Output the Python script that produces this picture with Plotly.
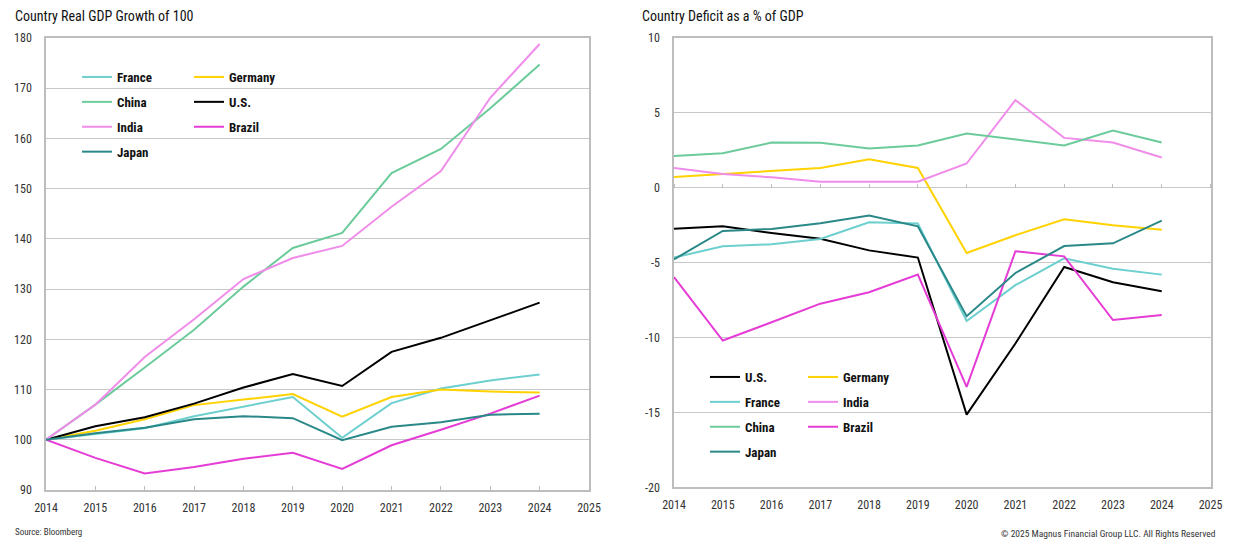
import plotly.graph_objects as go

# ---------------- data ----------------
years = [2014, 2015, 2016, 2017, 2018, 2019, 2020, 2021, 2022, 2023, 2024]
x_ticks = [2014, 2015, 2016, 2017, 2018, 2019, 2020, 2021, 2022, 2023, 2024, 2025]

# Real GDP growth, indexed to 100 in 2014
france_gdp = [100, 101.2, 102.3, 104.7, 106.6, 108.5, 100.4, 107.3, 110.2, 111.8, 113.0]
germany_gdp = [100, 101.8, 104.1, 106.9, 108.0, 109.1, 104.6, 108.5, 110.0, 109.6, 109.4]
china_gdp = [100, 107.0, 114.4, 121.9, 130.5, 138.2, 141.2, 153.1, 157.9, 166.0, 174.7]
us_gdp = [100, 102.7, 104.5, 107.2, 110.4, 113.1, 110.7, 117.5, 120.3, 123.8, 127.3]
india_gdp = [100, 107.0, 116.5, 124.0, 132.0, 136.2, 138.6, 146.4, 153.5, 168.1, 178.8]
brazil_gdp = [100, 96.4, 93.3, 94.6, 96.2, 97.4, 94.2, 98.9, 102.0, 105.2, 108.8]
japan_gdp = [100, 101.3, 102.4, 104.1, 104.7, 104.3, 99.9, 102.6, 103.5, 105.0, 105.2]

# Deficit as a % of GDP
us_def = [-2.73, -2.57, -3.02, -3.4, -4.18, -4.66, -15.15, -10.4, -5.29, -6.31, -6.91]
germany_def = [0.72, 0.92, 1.12, 1.32, 1.9, 1.32, -4.35, -3.17, -2.1, -2.5, -2.8]
france_def = [-4.66, -3.91, -3.77, -3.42, -2.3, -2.39, -8.9, -6.5, -4.71, -5.4, -5.8]
india_def = [1.32, 0.92, 0.7, 0.41, 0.41, 0.41, 1.62, 5.85, 3.33, 3.02, 2.02]
china_def = [2.12, 2.3, 3.02, 3.0, 2.62, 2.82, 3.62, 3.22, 2.82, 3.82, 3.02]
brazil_def = [-5.96, -10.2, -8.98, -7.74, -6.98, -5.8, -13.3, -4.24, -4.58, -8.83, -8.5]
japan_def = [-4.78, -2.88, -2.75, -2.37, -1.86, -2.57, -8.58, -5.69, -3.89, -3.71, -2.19]

gdp_ticks = [90, 100, 110, 120, 130, 140, 150, 160, 170, 180]
def_ticks = [-20, -15, -10, -5, 0, 5, 10]
def_tick_text = ["-20", "-15", "-10", "-5", "0", "5", "10"]

left_title = "Country Real GDP Growth of 100"
right_title = "Country Deficit as a % of GDP"
source_text = "Source: Bloomberg"
copyright_text = "© 2025 Magnus Financial Group LLC. All Rights Reserved"

# ---------------- styling ----------------
colors = {
    "France": "#6ECFCF",
    "Germany": "#FFD200",
    "China": "#6CCB9B",
    "U.S.": "#000000",
    "India": "#F08CEA",
    "Brazil": "#E63CD6",
    "Japan": "#2B8888",
}

W, H = 1235, 544
def px_x(p):
    return p / W
def px_y(p):
    return 1 - p / H

FONT = "Liberation Sans Narrow, Arial Narrow, Roboto Condensed, Roboto, sans-serif"
TXT = "#333333"
GRID = "#C8C8C8"
FRAME = "#BDBDBD"

fig = go.Figure()

left_series = [
    ("France", france_gdp, "legend"),
    ("Germany", germany_gdp, "legend2"),
    ("China", china_gdp, "legend"),
    ("U.S.", us_gdp, "legend2"),
    ("India", india_gdp, "legend"),
    ("Brazil", brazil_gdp, "legend2"),
    ("Japan", japan_gdp, "legend"),
]
right_series = [
    ("U.S.", us_def, "legend3"),
    ("Germany", germany_def, "legend4"),
    ("France", france_def, "legend3"),
    ("India", india_def, "legend4"),
    ("China", china_def, "legend3"),
    ("Brazil", brazil_def, "legend4"),
    ("Japan", japan_def, "legend3"),
]

for name, vals, lg in left_series:
    fig.add_trace(go.Scatter(
        x=years, y=vals, mode="lines", name=name,
        line=dict(color=colors[name], width=2),
        xaxis="x", yaxis="y", legend=lg, legendgroup="L" + name,
        hoverinfo="skip"))

for name, vals, lg in right_series:
    fig.add_trace(go.Scatter(
        x=years, y=vals, mode="lines", name=name,
        line=dict(color=colors[name], width=2),
        xaxis="x2", yaxis="y2", legend=lg, legendgroup="R" + name,
        hoverinfo="skip"))

# helper trace so the tick-only axis at zero is drawn
fig.add_trace(go.Scatter(x=[], y=[], xaxis="x3", yaxis="y2", showlegend=False, hoverinfo="skip"))

tickfont = dict(family=FONT, size=12, color=TXT)
legfont = dict(family=FONT, size=13, color="#111111", weight="bold")

y2_dom = [px_y(487.3), px_y(38)]
zero_pos = y2_dom[0] + (0 - (-20)) / 30 * (y2_dom[1] - y2_dom[0])

common_x = dict(range=[2014, 2025], tickvals=x_ticks, ticktext=[str(t) for t in x_ticks],
                showgrid=False, zeroline=False, showline=True, mirror=True,
                linecolor=FRAME, linewidth=1.5, tickfont=tickfont, ticklabelstandoff=6,
                automargin=False, fixedrange=True)

fig.update_layout(
    width=W, height=H,
    margin=dict(l=0, r=0, t=0, b=0),
    paper_bgcolor="white", plot_bgcolor="white",
    template="none",
    font=dict(family=FONT, color=TXT),
    xaxis=dict(domain=[px_x(46), px_x(589)], anchor="y",
               ticks="inside", ticklen=4, tickcolor=FRAME, tickwidth=1, **common_x),
    yaxis=dict(domain=[px_y(490), px_y(38)], anchor="x", range=[90, 180],
               tickvals=gdp_ticks, ticktext=[str(t) for t in gdp_ticks],
               showgrid=True, gridcolor=GRID, gridwidth=1, zeroline=False,
               showline=True, mirror=True, linecolor=FRAME, linewidth=1.5,
               ticks="", tickfont=tickfont, ticklabelstandoff=10,
               automargin=False, fixedrange=True),
    xaxis2=dict(domain=[px_x(674), px_x(1210.5)], anchor="y2", ticks="", **common_x),
    yaxis2=dict(domain=y2_dom, anchor="x2", range=[-20, 10],
                tickvals=def_ticks, ticktext=def_tick_text,
                showgrid=True, gridcolor=GRID, gridwidth=1, zeroline=False,
                showline=True, mirror=True, linecolor=FRAME, linewidth=1.5,
                ticks="", tickfont=tickfont, ticklabelstandoff=10,
                automargin=False, fixedrange=True),
    xaxis3=dict(overlaying="x2", anchor="free", position=zero_pos, side="top",
                range=[2014, 2025], tickvals=x_ticks, showticklabels=False,
                ticks="outside", ticklen=4, tickcolor=FRAME, tickwidth=1,
                showline=False, showgrid=False, zeroline=False, automargin=False,
                fixedrange=True),
    legend=dict(x=px_x(77), y=px_y(62), xanchor="left", yanchor="top",
                bgcolor="rgba(0,0,0,0)", borderwidth=0, font=legfont, tracegroupgap=5),
    legend2=dict(x=px_x(189), y=px_y(62), xanchor="left", yanchor="top",
                 bgcolor="rgba(0,0,0,0)", borderwidth=0, font=legfont, tracegroupgap=5),
    legend3=dict(x=px_x(705), y=px_y(362), xanchor="left", yanchor="top",
                 bgcolor="rgba(0,0,0,0)", borderwidth=0, font=legfont, tracegroupgap=5),
    legend4=dict(x=px_x(803), y=px_y(362), xanchor="left", yanchor="top",
                 bgcolor="rgba(0,0,0,0)", borderwidth=0, font=legfont, tracegroupgap=5),
    shapes=[
        dict(type="rect", xref="paper", yref="paper", layer="between",
             x0=px_x(68), x1=px_x(291), y0=px_y(165), y1=px_y(60),
             fillcolor="rgba(255,255,255,0.75)", line=dict(width=0)),
        dict(type="rect", xref="paper", yref="paper", layer="between",
             x0=px_x(705), x1=px_x(900), y0=px_y(466), y1=px_y(362),
             fillcolor="rgba(255,255,255,0.75)", line=dict(width=0)),
    ],
    annotations=[
        dict(text=left_title, xref="paper", yref="paper", x=px_x(13), y=px_y(16.5),
             xanchor="left", yanchor="middle", showarrow=False,
             font=dict(family=FONT, size=14, color="#111111")),
        dict(text=right_title, xref="paper", yref="paper", x=px_x(640), y=px_y(16.5),
             xanchor="left", yanchor="middle", showarrow=False,
             font=dict(family=FONT, size=14, color="#111111")),
        dict(text=source_text, xref="paper", yref="paper", x=px_x(13), y=px_y(531.5),
             xanchor="left", yanchor="middle", showarrow=False,
             font=dict(family=FONT, size=9, color="#333333")),
        dict(text=copyright_text, xref="paper", yref="paper", x=px_x(1218), y=px_y(533),
             xanchor="right", yanchor="middle", showarrow=False,
             font=dict(family=FONT, size=9.5, color="#333333")),
    ],
)

fig.write_html("out.html", config={"displayModeBar": False},
               post_script="document.body.style.margin='0';document.body.style.overflow='hidden';")
